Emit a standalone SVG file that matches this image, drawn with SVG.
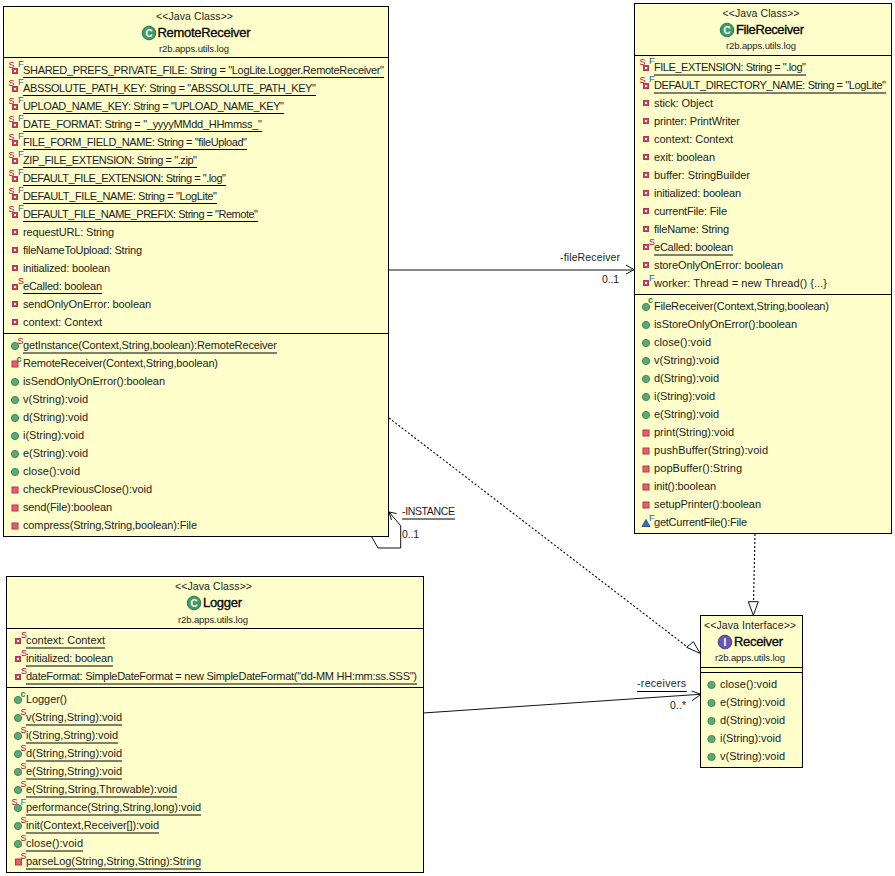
<svg xmlns="http://www.w3.org/2000/svg" width="895" height="876" viewBox="0 0 895 876">
<style>
text{font-family:"Liberation Sans",Arial,sans-serif;fill:#1c1c1c}
.t{font-size:11px}
.h{font-size:10.5px;text-anchor:middle}
.p{font-size:9.5px;text-anchor:middle}
.n{font-size:13px;text-anchor:middle;fill:#000;stroke:#000;stroke-width:.3}
.s{font-size:9px;fill:#c8003c}
.f{font-size:9.5px;fill:#2a60b0}
.c{font-size:9px;fill:#1e8040;font-weight:bold}
.l{font-size:10.5px}
.box{fill:#ffffcc;stroke:#000;stroke-width:1}
.d{stroke:#000;stroke-width:1;fill:none}
.u{stroke:#000;stroke-width:1}
.con{stroke:#111;stroke-width:1;fill:none}
.dash{stroke:#000;stroke-width:1.1;fill:none;stroke-dasharray:2 2}
.hollow{stroke:#111;stroke-width:1;fill:#fff}
.ic{font-size:10px;font-weight:bold;fill:#fff;text-anchor:middle}
</style>
<defs>
<g id="fp"><rect x="-2.5" y="-2.5" width="5" height="5" fill="#d04060" stroke="#c03050" stroke-width="1"/><rect x="-1" y="-1" width="2" height="2" fill="#fff"/></g>
<g id="m"><circle r="3.6" fill="#5fa878" stroke="#3a8a58" stroke-width="1"/></g>
<g id="mp"><rect x="-3" y="-3" width="6" height="6" fill="#e06070" stroke="#c03050" stroke-width="1"/></g>
<g id="mt"><path d="M-4 3.5L0-3.5L4 3.5Z" fill="#3a70b8" stroke="#2a5a9a" stroke-width="1"/></g>
<g id="cc"><circle r="6.8" fill="#3f9a66" stroke="#2a7a4c" stroke-width="1"/></g>
<g id="ci"><circle r="6.8" fill="#6a55b0" stroke="#4a3a90" stroke-width="1"/></g>
</defs>
<rect width="895" height="876" fill="#fff"/>

<g id="connectors">
<path class="con" d="M389 270H634"/><path class="con" d="M626 265L634 269.7L626 274"/>
<path class="con" d="M371.500 536.500L378 548H400.700V525.700L389 512"/><path class="con" d="M396.500 513.500L389 512L391.500 520"/>
<path class="con" d="M423 713L700 694.300"/><path class="con" d="M691.700 691L701 694.300L692 700.700"/>
<path class="dash" d="M389 418L690 649"/><path class="hollow" d="M686.700 647.300L693.300 641.700L700.300 653.500Z"/>
<path class="dash" d="M755 534L753.500 602"/><path class="hollow" d="M748.300 601.700H758.300L753.300 615.300Z"/>
<text class="l" x="560" y="261" textLength="60">-fileReceiver</text>
<text class="l" x="602" y="283" textLength="17">0..1</text>
<text class="l" x="402" y="515" textLength="53">-INSTANCE</text><line class="u" x1="402" y1="519" x2="455" y2="519"/>
<text class="l" x="402" y="538" textLength="17">0..1</text>
<text class="l" x="637" y="687" textLength="49">-receivers</text><line class="u" x1="637" y1="691.500" x2="687" y2="691.500"/>
<text class="l" x="670" y="709" textLength="16">0..*</text>
</g>

<g id="RemoteReceiver">
<rect class="box" x="3.500" y="6.500" width="385" height="530"/>
<path class="d" d="M3.500 57.500H388.500M3.500 333.500H388.500"/>
<text class="h" x="194.500" y="20" textLength="77">&lt;&lt;Java Class&gt;&gt;</text>
<use href="#cc" x="149" y="33"/><text class="ic" x="149" y="36.500">C</text>
<text class="n" x="204" y="37" textLength="93">RemoteReceiver</text>
<text class="p" x="194" y="52" textLength="70">r2b.apps.utils.log</text>
<use href="#fp" x="15" y="71"/><text class="s" x="8.500" y="68">S</text><text class="f" x="18" y="67">F</text><text class="t" x="23" y="74" textLength="361">SHARED_PREFS_PRIVATE_FILE: String = "LogLite.Logger.RemoteReceiver"</text><line class="u" x1="23" y1="77.500" x2="384" y2="77.500"/>
<use href="#fp" x="15" y="89"/><text class="s" x="8.500" y="86">S</text><text class="f" x="18" y="85">F</text><text class="t" x="23" y="92" textLength="293">ABSSOLUTE_PATH_KEY: String = "ABSSOLUTE_PATH_KEY"</text><line class="u" x1="23" y1="95.500" x2="316" y2="95.500"/>
<use href="#fp" x="15" y="107"/><text class="s" x="8.500" y="104">S</text><text class="f" x="18" y="103">F</text><text class="t" x="23" y="110" textLength="261">UPLOAD_NAME_KEY: String = "UPLOAD_NAME_KEY"</text><line class="u" x1="23" y1="113.500" x2="284" y2="113.500"/>
<use href="#fp" x="15" y="125"/><text class="s" x="8.500" y="122">S</text><text class="f" x="18" y="121">F</text><text class="t" x="23" y="128" textLength="239">DATE_FORMAT: String = "_yyyyMMdd_HHmmss_"</text><line class="u" x1="23" y1="131.500" x2="262" y2="131.500"/>
<use href="#fp" x="15" y="143"/><text class="s" x="8.500" y="140">S</text><text class="f" x="18" y="139">F</text><text class="t" x="23" y="146" textLength="224">FILE_FORM_FIELD_NAME: String = "fileUpload"</text><line class="u" x1="23" y1="149.500" x2="247" y2="149.500"/>
<use href="#fp" x="15" y="161"/><text class="s" x="8.500" y="158">S</text><text class="f" x="18" y="157">F</text><text class="t" x="23" y="164" textLength="174">ZIP_FILE_EXTENSION: String = ".zip"</text><line class="u" x1="23" y1="167.500" x2="197" y2="167.500"/>
<use href="#fp" x="15" y="179"/><text class="s" x="8.500" y="176">S</text><text class="f" x="18" y="175">F</text><text class="t" x="23" y="182" textLength="203">DEFAULT_FILE_EXTENSION: String = ".log"</text><line class="u" x1="23" y1="185.500" x2="226" y2="185.500"/>
<use href="#fp" x="15" y="197"/><text class="s" x="8.500" y="194">S</text><text class="f" x="18" y="193">F</text><text class="t" x="23" y="200" textLength="194">DEFAULT_FILE_NAME: String = "LogLite"</text><line class="u" x1="23" y1="203.500" x2="217" y2="203.500"/>
<use href="#fp" x="15" y="215"/><text class="s" x="8.500" y="212">S</text><text class="f" x="18" y="211">F</text><text class="t" x="23" y="218" textLength="235">DEFAULT_FILE_NAME_PREFIX: String = "Remote"</text><line class="u" x1="23" y1="221.500" x2="258" y2="221.500"/>
<use href="#fp" x="15" y="232"/><text class="t" x="23" y="236" textLength="91">requestURL: String</text>
<use href="#fp" x="15" y="250"/><text class="t" x="23" y="254" textLength="119">fileNameToUpload: String</text>
<use href="#fp" x="15" y="268"/><text class="t" x="23" y="272" textLength="87">initialized: boolean</text>
<use href="#fp" x="15" y="287"/><text class="s" x="18" y="284">S</text><text class="t" x="23" y="290" textLength="79">eCalled: boolean</text><line class="u" x1="23" y1="293.500" x2="102" y2="293.500"/>
<use href="#fp" x="15" y="304"/><text class="t" x="23" y="308" textLength="128">sendOnlyOnError: boolean</text>
<use href="#fp" x="15" y="322"/><text class="t" x="23" y="326" textLength="79">context: Context</text>
<use href="#m" x="15" y="346"/><text class="s" x="17.500" y="344">S</text><text class="t" x="23" y="349" textLength="254">getInstance(Context,String,boolean):RemoteReceiver</text><line class="u" x1="23" y1="353" x2="277" y2="353"/>
<use href="#mp" x="15" y="364"/><text class="c" x="16.500" y="362">c</text><text class="t" x="23" y="367" textLength="195">RemoteReceiver(Context,String,boolean)</text>
<use href="#m" x="15" y="382"/><text class="t" x="23" y="385" textLength="142">isSendOnlyOnError():boolean</text>
<use href="#m" x="15" y="400"/><text class="t" x="23" y="403" textLength="65">v(String):void</text>
<use href="#m" x="15" y="418"/><text class="t" x="23" y="421" textLength="65">d(String):void</text>
<use href="#m" x="15" y="436"/><text class="t" x="23" y="439" textLength="61">i(String):void</text>
<use href="#m" x="15" y="454"/><text class="t" x="23" y="457" textLength="65">e(String):void</text>
<use href="#m" x="15" y="472"/><text class="t" x="23" y="475" textLength="57">close():void</text>
<use href="#mp" x="15" y="490"/><text class="t" x="23" y="493" textLength="129">checkPreviousClose():void</text>
<use href="#mp" x="15" y="508"/><text class="t" x="23" y="511" textLength="89">send(File):boolean</text>
<use href="#mp" x="15" y="526"/><text class="t" x="23" y="529" textLength="174">compress(String,String,boolean):File</text>
</g>

<g id="FileReceiver">
<rect class="box" x="634.500" y="3.500" width="257" height="530"/>
<path class="d" d="M634.500 55.500H891.500M634.500 294.500H891.500"/>
<text class="h" x="761" y="17" textLength="77">&lt;&lt;Java Class&gt;&gt;</text>
<use href="#cc" x="727" y="30"/><text class="ic" x="727" y="33.500">C</text>
<text class="n" x="770" y="34" textLength="68">FileReceiver</text>
<text class="p" x="761" y="49" textLength="70">r2b.apps.utils.log</text>
<use href="#fp" x="646" y="68"/><text class="s" x="639.500" y="65">S</text><text class="f" x="649" y="64">F</text><text class="t" x="654" y="71" textLength="152">FILE_EXTENSION: String = ".log"</text><line class="u" x1="654" y1="75" x2="806" y2="75"/>
<use href="#fp" x="646" y="86"/><text class="s" x="639.500" y="83">S</text><text class="f" x="649" y="82">F</text><text class="t" x="654" y="89" textLength="232">DEFAULT_DIRECTORY_NAME: String = "LogLite"</text><line class="u" x1="654" y1="93" x2="886" y2="93"/>
<use href="#fp" x="646" y="103"/><text class="t" x="654" y="107" textLength="59">stick: Object</text>
<use href="#fp" x="646" y="121"/><text class="t" x="654" y="125" textLength="86">printer: PrintWriter</text>
<use href="#fp" x="646" y="139"/><text class="t" x="654" y="143" textLength="79">context: Context</text>
<use href="#fp" x="646" y="157"/><text class="t" x="654" y="161" textLength="61">exit: boolean</text>
<use href="#fp" x="646" y="175"/><text class="t" x="654" y="179" textLength="96">buffer: StringBuilder</text>
<use href="#fp" x="646" y="193"/><text class="t" x="654" y="197" textLength="87">initialized: boolean</text>
<use href="#fp" x="646" y="211"/><text class="t" x="654" y="215" textLength="73">currentFile: File</text>
<use href="#fp" x="646" y="229"/><text class="t" x="654" y="233" textLength="75">fileName: String</text>
<use href="#fp" x="646" y="247"/><text class="s" x="649" y="245">S</text><text class="t" x="654" y="251" textLength="79">eCalled: boolean</text><line class="u" x1="654" y1="255" x2="733" y2="255"/>
<use href="#fp" x="646" y="265"/><text class="t" x="654" y="269" textLength="129">storeOnlyOnError: boolean</text>
<use href="#fp" x="646" y="283"/><text class="f" x="649" y="281">F</text><text class="t" x="654" y="287" textLength="173">worker: Thread = new Thread() {...}</text>
<use href="#m" x="646" y="307"/><text class="c" x="648" y="303">c</text><text class="t" x="654" y="310" textLength="175">FileReceiver(Context,String,boolean)</text>
<use href="#m" x="646" y="325"/><text class="t" x="654" y="328" textLength="143">isStoreOnlyOnError():boolean</text>
<use href="#m" x="646" y="343"/><text class="t" x="654" y="346" textLength="57">close():void</text>
<use href="#m" x="646" y="361"/><text class="t" x="654" y="364" textLength="65">v(String):void</text>
<use href="#m" x="646" y="379"/><text class="t" x="654" y="382" textLength="65">d(String):void</text>
<use href="#m" x="646" y="397"/><text class="t" x="654" y="400" textLength="61">i(String):void</text>
<use href="#m" x="646" y="415"/><text class="t" x="654" y="418" textLength="65">e(String):void</text>
<use href="#mp" x="646" y="433"/><text class="t" x="654" y="436" textLength="80">print(String):void</text>
<use href="#mp" x="646" y="451"/><text class="t" x="654" y="454" textLength="114">pushBuffer(String):void</text>
<use href="#mp" x="646" y="469"/><text class="t" x="654" y="472" textLength="88">popBuffer():String</text>
<use href="#mp" x="646" y="487"/><text class="t" x="654" y="490" textLength="62">init():boolean</text>
<use href="#mp" x="646" y="505"/><text class="t" x="654" y="508" textLength="107">setupPrinter():boolean</text>
<use href="#mt" x="646" y="523"/><text class="f" x="649" y="521">F</text><text class="t" x="654" y="526" textLength="93">getCurrentFile():File</text>
</g>

<g id="Logger">
<rect class="box" x="6.500" y="576.500" width="417" height="296"/>
<path class="d" d="M6.500 628.500H423.500M6.500 687.500H423.500"/>
<text class="h" x="213.500" y="590" textLength="77">&lt;&lt;Java Class&gt;&gt;</text>
<use href="#cc" x="194" y="603"/><text class="ic" x="194" y="606.500">C</text>
<text class="n" x="222.500" y="607" textLength="39">Logger</text>
<text class="p" x="213" y="623" textLength="70">r2b.apps.utils.log</text>
<use href="#fp" x="18" y="641"/><text class="s" x="21" y="638">S</text><text class="t" x="26" y="644" textLength="79">context: Context</text><line class="u" x1="26" y1="648" x2="105" y2="648"/>
<use href="#fp" x="18" y="659"/><text class="s" x="21" y="656">S</text><text class="t" x="26" y="662" textLength="87">initialized: boolean</text><line class="u" x1="26" y1="666" x2="113" y2="666"/>
<use href="#fp" x="18" y="677"/><text class="s" x="21" y="674">S</text><text class="t" x="26" y="680" textLength="391">dateFormat: SimpleDateFormat = new SimpleDateFormat("dd-MM HH:mm:ss.SSS")</text><line class="u" x1="26" y1="684" x2="417" y2="684"/>
<use href="#m" x="18" y="700"/><text class="c" x="20.500" y="697">c</text><text class="t" x="26" y="703" textLength="41">Logger()</text>
<use href="#m" x="18" y="718"/><text class="s" x="20.500" y="715">S</text><text class="t" x="26" y="721" textLength="96">v(String,String):void</text><line class="u" x1="26" y1="725" x2="122" y2="725"/>
<use href="#m" x="18" y="736"/><text class="s" x="20.500" y="733">S</text><text class="t" x="26" y="739" textLength="92">i(String,String):void</text><line class="u" x1="26" y1="743" x2="118" y2="743"/>
<use href="#m" x="18" y="754"/><text class="s" x="20.500" y="751">S</text><text class="t" x="26" y="757" textLength="96">d(String,String):void</text><line class="u" x1="26" y1="761" x2="122" y2="761"/>
<use href="#m" x="18" y="772"/><text class="s" x="20.500" y="769">S</text><text class="t" x="26" y="775" textLength="96">e(String,String):void</text><line class="u" x1="26" y1="779" x2="122" y2="779"/>
<use href="#m" x="18" y="790"/><text class="s" x="20.500" y="787">S</text><text class="t" x="26" y="793" textLength="151">e(String,String,Throwable):void</text><line class="u" x1="26" y1="797" x2="177" y2="797"/>
<use href="#m" x="18" y="808"/><text class="s" x="11.500" y="805">S</text><text class="f" x="20.500" y="805">F</text><text class="t" x="26" y="811" textLength="175">performance(String,String,long):void</text><line class="u" x1="26" y1="815" x2="201" y2="815"/>
<use href="#m" x="18" y="826"/><text class="s" x="20.500" y="823">S</text><text class="t" x="26" y="829" textLength="133">init(Context,Receiver[]):void</text><line class="u" x1="26" y1="833" x2="159" y2="833"/>
<use href="#m" x="18" y="844"/><text class="s" x="20.500" y="841">S</text><text class="t" x="26" y="847" textLength="57">close():void</text><line class="u" x1="26" y1="851" x2="83" y2="851"/>
<use href="#mp" x="18.500" y="862"/><text class="s" x="20.500" y="859">S</text><text class="t" x="26" y="865" textLength="175">parseLog(String,String,String):String</text><line class="u" x1="26" y1="869" x2="201" y2="869"/>
</g>

<g id="Receiver">
<rect class="box" x="700.500" y="615.500" width="102" height="152"/>
<path class="d" d="M700.500 667.500H802.500M700.500 672.500H802.500"/>
<text class="h" x="750" y="629" textLength="92">&lt;&lt;Java Interface&gt;&gt;</text>
<use href="#ci" x="725" y="642"/><text class="ic" x="725" y="645.500">I</text>
<text class="n" x="758.500" y="646" textLength="49">Receiver</text>
<text class="p" x="750" y="661" textLength="70">r2b.apps.utils.log</text>
<use href="#m" x="711.500" y="685"/><text class="t" x="720" y="688" textLength="57">close():void</text>
<use href="#m" x="711.500" y="703"/><text class="t" x="720" y="706" textLength="65">e(String):void</text>
<use href="#m" x="711.500" y="721"/><text class="t" x="720" y="724" textLength="65">d(String):void</text>
<use href="#m" x="711.500" y="739"/><text class="t" x="720" y="742" textLength="61">i(String):void</text>
<use href="#m" x="711.500" y="757"/><text class="t" x="720" y="760" textLength="65">v(String):void</text>
</g>
</svg>
